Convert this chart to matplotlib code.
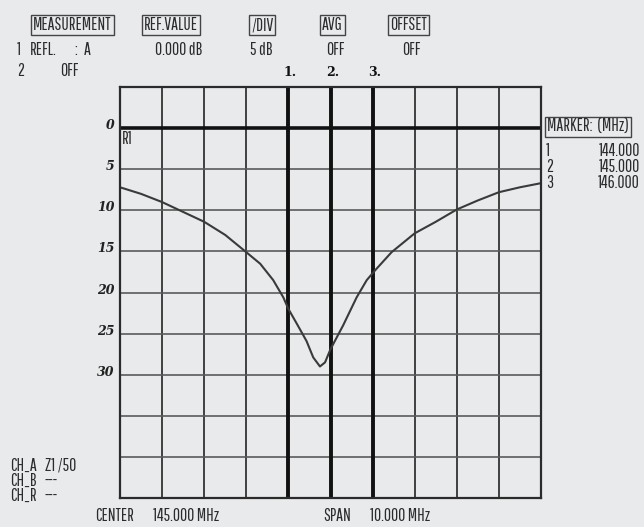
import matplotlib.pyplot as plt
import numpy as np

# trace: frequency (MHz) vs return loss (dB, drawn downward)
freq = [140.0, 140.5, 141.0, 141.5, 142.0, 142.5, 143.0, 143.33, 143.64,
        143.88, 144.0, 144.2, 144.43, 144.59, 144.75, 144.87, 145.0, 145.3,
        145.62, 145.86, 146.06, 146.45, 147.0, 147.5, 148.0, 148.5, 149.0,
        149.5, 150.0]
loss = [7.2, 8.0, 9.0, 10.2, 11.4, 13.0, 15.1, 16.5, 18.5,
        20.6, 22.0, 23.8, 25.9, 27.9, 29.0, 28.5, 26.9, 24.0,
        20.6, 18.5, 17.3, 15.1, 12.8, 11.4, 9.9, 8.8, 7.8,
        7.2, 6.7]

markers = [144.0, 145.0, 146.0]
marker_names = ["1.", "2.", "3."]
y_labels = ["0", "5", "10", "15", "20", "25", "30"]

header_titles = ["MEASUREMENT", "REF.VALUE", "/DIV", "AVG", "OFFSET"]
header_values = ["0.000 dB", "5 dB", "OFF", "OFF"]
channels = [("CH_A", "Z1 /50"), ("CH_B", "---"), ("CH_R", "---")]

bg = "#e9eaec"
ink = "#2b2b2b"
FONT = ["Pathway Gothic One", "DejaVu Sans"]
FS = 12.5

fig = plt.figure(figsize=(6.44, 5.27), dpi=100, facecolor=bg)
W, H = 644, 527


def px(x, y):
    return x / W, 1 - y / H


def label(x, y, s, ha="left", va="center", box=False, **kw):
    kw.setdefault("fontsize", FS)
    bbox = None
    if box:
        bbox = dict(boxstyle="square,pad=0.12", fc="none", ec="#444444", lw=1.0)
    fig.text(*px(x, y), s, ha=ha, va=va, color=ink, family=FONT,
             bbox=bbox, **kw)


ax = fig.add_axes([120 / W, 1 - 498 / H, 421 / W, 411 / H])
ax.set_facecolor(bg)
ax.set_xlim(140, 150)
ax.set_ylim(45, -5)
ax.set_xticks(np.arange(140, 151, 1))
ax.set_yticks(np.arange(-5, 46, 5))
ax.grid(True, axis="x", color="#333333", lw=1.3)
ax.grid(True, axis="y", color="#5a5a5a", lw=1.2)
ax.tick_params(length=0, labelbottom=False, labelleft=False)
for s in ax.spines.values():
    s.set_color(ink)
    s.set_linewidth(1.6)

ax.axhline(0, color="#111111", lw=2.6)
for m in markers:
    ax.axvline(m, color="#111111", lw=2.8)

ax.plot(freq, loss, color="#3a3a3a", lw=1.5)

# hand-written level numbers on the left
for i, t in enumerate(y_labels):
    ax.text(-0.012, i * 5 - 0.3, t, transform=ax.get_yaxis_transform(),
            ha="right", va="center", fontsize=9, fontstyle="italic",
            fontweight="bold", family="DejaVu Serif", color="#222222")

ax.text(140.05, 1.3, "R1", ha="left", va="center", fontsize=FS,
        family=FONT, color=ink)

for m, n in zip(markers, marker_names):
    ax.text(m + 0.05, -6.8, n, ha="center", va="center", fontsize=9,
            fontweight="bold", family="DejaVu Serif", color="#111111",
            clip_on=False)

# header block
title_x = [33, 144, 251, 322, 390]
value_x = [155, 250, 326, 402]
for x, t in zip(title_x, header_titles):
    label(x, 25, t, box=True)
label(17, 50, "1")
label(30, 50, "REFL.")
label(74, 50, ":")
label(84, 50, "A")
for x, t in zip(value_x, header_values):
    label(x, 50, t)
label(17, 71, "2")
label(60, 71, "OFF")

# marker table
label(547, 127, "MARKER:  (MHz)", box=True)
for i, (m, n) in enumerate(zip(markers, marker_names)):
    y = 151 + i * 16
    label(546, y, n.rstrip("."))
    label(640, y, f"{m:.3f}", ha="right")

# channel info and footer
for i, (c, v) in enumerate(channels):
    y = 466 + i * 15
    label(10, y, c)
    label(45, y, v)
label(95, 516, "CENTER")
label(153, 516, "145.000 MHz")
label(323, 516, "SPAN")
label(370, 516, "10.000 MHz")

fig.savefig("out.png", dpi=100, facecolor=bg)
